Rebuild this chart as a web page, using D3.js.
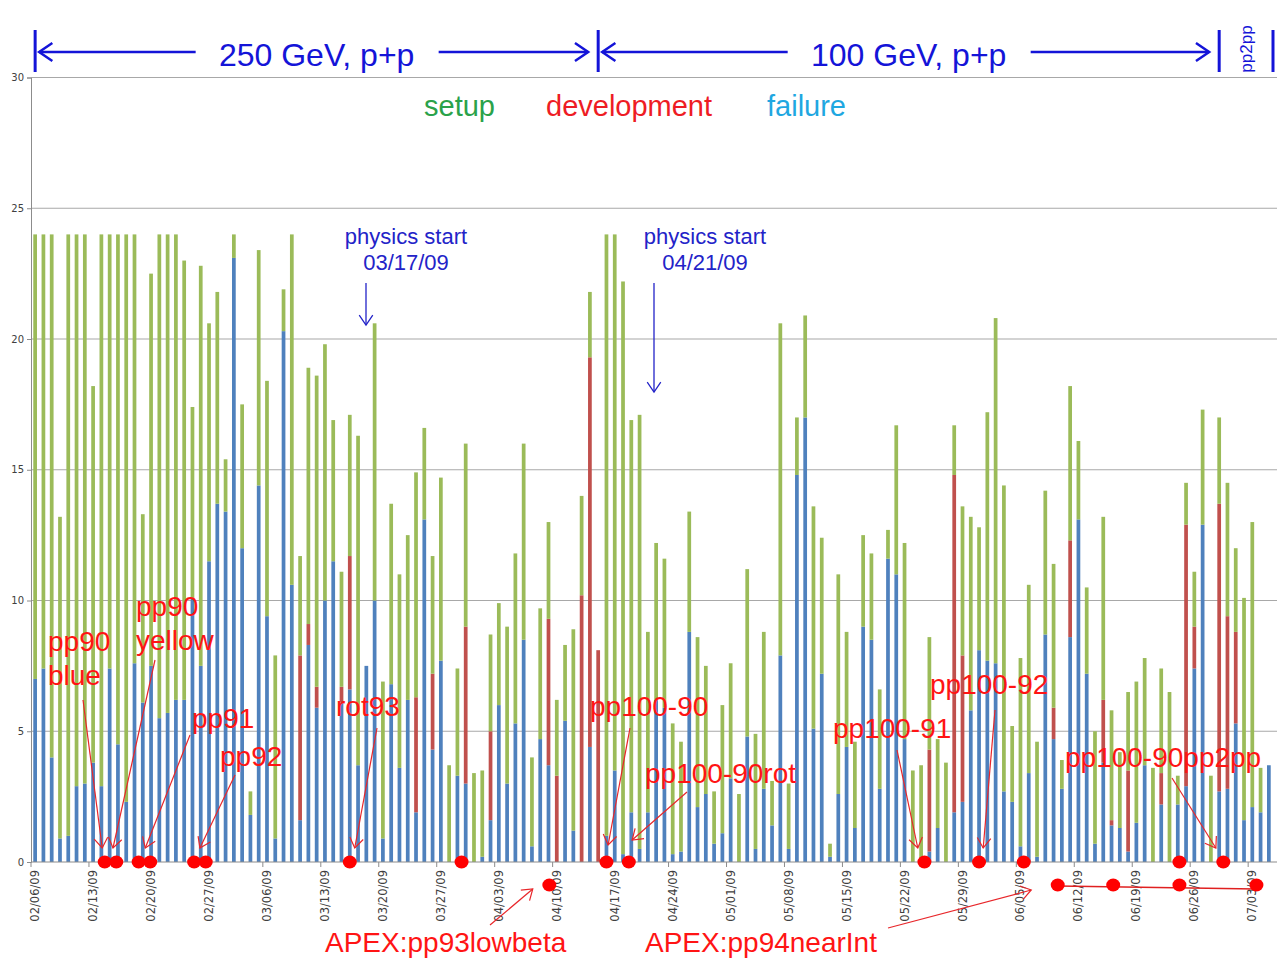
<!DOCTYPE html>
<html>
<head>
<meta charset="utf-8">
<script src="https://cdn.jsdelivr.net/npm/d3@7"></script>
<style>
  body { margin: 0; background: #fff; }
  svg { display: block; }
</style>
</head>
<body>
<script>
// hours per day, Feb 6 .. Jul 5 2009 (one value per day)
var physics = [7.0,7.4,4.0,0.9,1.0,2.9,3.0,3.8,2.9,7.4, 4.5,2.3,7.6,6.1,7.5,5.5,5.7,6.2,6.2,10.1,
  7.5,11.5,13.7,13.4,23.1,12.0,1.8,14.4,9.4,0.9, 20.3,10.6,1.6,8.3,5.9,10.0,11.5,6.1,6.6,3.7,
  7.5,10.0,0.9,6.8,3.6,6.2,1.9,13.1,4.3,7.7, 0,3.3,3.0,0,0.2,1.6,6.0,3.0,5.3,8.5,
  0.6,4.7,3.7,0,5.4,1.2,0,4.4,0,1.0, 3.5,0.3,1.9,0.5,1.9,6.2,5.9,0.3,0.4,8.8,
  2.1,2.6,0.7,1.1,3.2,0,4.8,0.5,2.8,1.4, 7.9,0.5,14.8,17.0,5.1,7.2,0.2,2.6,4.4,1.3,
  9.0,8.5,2.8,11.6,11.0,4.7,0,0,0.4,1.3, 0,1.9,2.3,5.8,8.1,7.7,7.6,2.7,2.3,0.6,
  3.4,0.2,8.7,4.7,2.8,8.6,13.1,7.2,0.7,3.8, 1.4,1.3,0.4,1.5,3.7,0,2.2,0,2.2,2.9,
  7.4,12.9,0,2.7,2.8,5.3,1.6,2.1,1.9,3.7];
var development = [0,0,0,0,0,0,0,0,0,0, 0,0,0,0,0,0,0,0,0,0,
  0,0,0,0,0,0,0,0,0,0, 0,0,6.3,0.8,0.8,0,0,0.6,5.1,0,
  0,0,0,0,0,0,4.4,0,2.9,0, 0,0,6.0,0,0,3.4,0,0,0,0,
  0,0,5.6,3.3,0,0,10.2,14.9,8.1,0, 0,0,0,0,0,0,0,0,0,0,
  0,0,0,0,0,0,0,0,0,0, 0,0,0,0,0,0,0,0,0,0,
  0,0,0,0,0,0,0,0,3.9,0, 0,12.9,5.6,0,0,0,0,0,0,0,
  0,0,0,1.2,0,3.7,0,0,0,2.4, 0.2,0,3.1,0,0,0,1.2,0,0,10.0,
  1.6,0,0,11.0,6.6,3.5,0,0,0,0];
var setup = [17.0,16.6,20.0,12.3,23.0,21.1,21.0,14.4,21.1,16.6, 19.5,21.7,16.4,7.2,15.0,18.5,18.3,17.8,16.8,7.3,
  15.3,9.1,8.1,2.0,0.9,5.5,0.9,9.0,9.0,7.0, 1.6,13.4,3.8,9.8,11.9,9.8,5.4,4.4,5.4,12.6,
  0,10.6,6.0,6.9,7.4,6.3,8.6,3.5,4.5,7.0, 3.7,4.1,7.0,3.4,3.3,3.7,3.9,6.0,6.5,7.5,
  3.4,5.0,3.7,2.9,2.9,7.7,3.8,2.5,0,23.0, 20.5,21.9,15.0,16.6,6.9,6.0,5.7,5.0,4.2,4.6,
  6.5,4.9,2.0,4.9,4.4,2.6,6.4,4.4,6.0,1.7, 12.7,2.5,2.2,3.9,8.5,5.2,0.5,8.4,4.4,3.3,
  3.5,3.3,3.8,1.1,5.7,7.5,3.5,3.7,4.3,3.4, 3.8,1.9,5.7,7.4,4.7,9.5,13.2,11.7,2.9,7.2,
  7.2,4.4,5.5,5.5,1.1,5.9,3.0,3.3,4.3,7.0, 4.2,2.9,3.0,5.4,4.1,3.6,4.0,6.5,1.1,1.6,
  2.1,4.4,3.3,3.3,5.1,3.2,8.5,10.9,1.7,0];

var seriesKeys = ["physics", "development", "setup"];
var seriesColors = ["#4f81bd", "#c0504d", "#9bbb59"];
var yTicks = [0, 5, 10, 15, 20, 25, 30];

// annotation dots (days after 02/06/09)
var dotsOnAxis = [8.4, 9.8, 12.5, 13.9, 19.2, 20.6, 38.0, 51.5, 69.0, 71.7, 107.4, 114.0, 119.4, 138.2, 143.5];
var dotsBelow = [62.1, 123.5, 130.2, 138.2, 147.5];

// run periods: [label, startDay, endDay]
var periods = [["250 GeV, p+p", 0, 68], ["100 GeV, p+p", 68, 143], ["pp2pp", 143, 149.5]];

var legendItems = [["setup", "#2aa24a"], ["development", "#ee1c24"], ["failure", "#1fa7e1"]];

// label lines, text pos, arrow start, arrow tip (day, px)
var notes = [
  [["pp90", "blue"], 48, 651, 83, 700, 8.1, 848],
  [["pp90", "yellow"], 136, 616, 155, 660, 9.4, 848],
  [["pp91"], 192, 728, 190, 735, 13.3, 848],
  [["pp92"], 220, 766, 235, 775, 19.9, 848],
  [["rot93"], 336, 716, 377, 728, 38.6, 848],
  [["pp100-90"], 590, 716, 630, 728, 69.2, 845],
  [["pp100-90rot"], 645, 783, 687, 792, 72.1, 840],
  [["pp100-91"], 833, 738, 897, 750, 106.6, 848],
  [["pp100-92"], 930, 694, 995, 710, 114.5, 848],
  [["pp100-90pp2pp"], 1065, 767, 1172, 778, 142.6, 848],
  [["APEX:pp93lowbeta"], 325, 952, 490, 925, 60.1, 889],
  [["APEX:pp94nearInt"], 645, 952, 888, 928, 120.3, 890]
];

var starts = [[["physics start", "03/17/09"], 406, 366, 283, 325], [["physics start", "04/21/09"], 705, 654, 283, 392]];

var W = 1277, H = 962;
var margin = {left: 31, top: 77.5, bottom: 862};

var dates = d3.timeDay.range(new Date(2009, 1, 6), new Date(2009, 6, 7));
var fmt = d3.timeFormat("%m/%d/%y");

var data = physics.map(function(v, i) {
  return {date: dates[i], physics: v, development: development[i], setup: setup[i]};
});

var x = d3.scaleBand()
  .domain(dates)
  .range([margin.left, margin.left + dates.length * 8.28])
  .paddingInner(0.55)
  .paddingOuter(0.275);

var y = d3.scaleLinear()
  .domain([0, 30])
  .range([margin.bottom, margin.top]);

function xDay(d) { return x(dates[0]) + x.bandwidth() / 2 + d * x.step(); }

var svg = d3.select("body").append("svg")
  .attr("width", W)
  .attr("height", H)
  .style("font-family", "'Liberation Sans', Arial, sans-serif");

svg.append("rect").attr("width", W).attr("height", H).attr("fill", "#fff");

// grid + y axis
svg.append("g").selectAll("line")
  .data(yTicks.filter(function(t) { return t > 0; }))
  .enter().append("line")
  .attr("x1", margin.left).attr("x2", W)
  .attr("y1", function(d) { return y(d); })
  .attr("y2", function(d) { return y(d); })
  .attr("stroke", "#a8a8a8").attr("stroke-width", 1.2);

svg.append("g")
  .attr("transform", "translate(" + margin.left + ",0)")
  .call(d3.axisLeft(y).tickValues(yTicks).tickSize(4).tickFormat(d3.format("d")))
  .call(function(g) {
    g.select(".domain").attr("stroke", "#8c8c8c");
    g.selectAll(".tick line").attr("stroke", "#8c8c8c");
    g.selectAll(".tick text").attr("fill", "#404040").attr("font-size", 10)
      .attr("font-family", "'DejaVu Sans', sans-serif");
  });

// stacked bars
var stack = d3.stack().keys(seriesKeys);
var layers = stack(data);

svg.append("g").selectAll("g")
  .data(layers)
  .enter().append("g")
  .attr("fill", function(d, i) { return seriesColors[i]; })
  .selectAll("rect")
  .data(function(d) { return d; })
  .enter().append("rect")
  .attr("x", function(d) { return x(d.data.date); })
  .attr("width", x.bandwidth())
  .attr("y", function(d) { return y(d[1]); })
  .attr("height", function(d) { return y(d[0]) - y(d[1]); });

// x axis
var weekly = dates.filter(function(d, i) { return i % 7 == 0 && i < data.length; });
var xa = svg.append("g");
xa.append("line")
  .attr("x1", margin.left).attr("x2", W)
  .attr("y1", margin.bottom).attr("y2", margin.bottom)
  .attr("stroke", "#8c8c8c").attr("stroke-width", 1.2);
xa.selectAll(".tk")
  .data(weekly)
  .enter().append("line")
  .attr("x1", function(d) { return x(d) - (x.step() - x.bandwidth()) / 2; })
  .attr("x2", function(d) { return x(d) - (x.step() - x.bandwidth()) / 2; })
  .attr("y1", margin.bottom).attr("y2", margin.bottom + 5)
  .attr("stroke", "#8c8c8c");
xa.selectAll("text")
  .data(weekly)
  .enter().append("text")
  .attr("transform", function(d) { return "translate(" + (x(d) + x.bandwidth() / 2) + "," + (margin.bottom + 8) + ") rotate(-90)"; })
  .attr("text-anchor", "end")
  .attr("dy", "0.35em")
  .attr("font-size", 11.5)
  .attr("font-family", "'DejaVu Sans', sans-serif")
  .attr("fill", "#404040")
  .text(function(d) { return fmt(d); });

// header: run periods
var blue = "#1414d8";
var hdr = svg.append("g").attr("stroke", blue).attr("fill", "none");
function arrow(g, x1, y1, x2, y2, color, w, head) {
  var a = Math.atan2(y2 - y1, x2 - x1);
  g.append("line").attr("x1", x1).attr("y1", y1).attr("x2", x2).attr("y2", y2)
    .attr("stroke", color).attr("stroke-width", w);
  g.append("path")
    .attr("d", "M" + (x2 - head * Math.cos(a - 0.6)) + "," + (y2 - head * Math.sin(a - 0.6)) +
      "L" + x2 + "," + y2 +
      "L" + (x2 - head * Math.cos(a + 0.6)) + "," + (y2 - head * Math.sin(a + 0.6)))
    .attr("stroke", color).attr("stroke-width", w).attr("fill", "none");
}
periods.forEach(function(p, i) {
  var xa0 = xDay(p[1]), xa1 = xDay(p[2]);
  hdr.append("line").attr("x1", xa0).attr("x2", xa0).attr("y1", 30).attr("y2", 72).attr("stroke-width", 3);
  if (i == periods.length - 1) {
    hdr.append("line").attr("x1", xa1).attr("x2", xa1).attr("y1", 30).attr("y2", 72).attr("stroke-width", 3);
    svg.append("text")
      .attr("transform", "translate(" + ((xa0 + xa1) / 2 + 6) + ",49) rotate(-90)")
      .attr("text-anchor", "middle")
      .attr("font-size", 17).attr("fill", blue)
      .text(p[0]);
  } else {
    var mid = (xa0 + xa1) / 2;
    arrow(hdr, mid - 121, 52, xa0 + 4, 52, blue, 2.5, 16);
    arrow(hdr, mid + 122, 52, xa1 - 10, 52, blue, 2.5, 16);
    svg.append("text")
      .attr("x", mid).attr("y", 66)
      .attr("text-anchor", "middle")
      .attr("font-size", 32).attr("fill", blue)
      .text(p[0]);
  }
});

// legend
var legendX = [424, 546, 767];
svg.append("g").selectAll("text")
  .data(legendItems)
  .enter().append("text")
  .attr("x", function(d, i) { return legendX[i]; })
  .attr("y", 116)
  .attr("font-size", 29)
  .attr("fill", function(d) { return d[1]; })
  .text(function(d) { return d[0]; });

// physics start notes
var ps = svg.append("g");
starts.forEach(function(s) {
  s[0].forEach(function(t, j) {
    ps.append("text")
      .attr("x", s[1]).attr("y", 244 + j * 26)
      .attr("text-anchor", "middle")
      .attr("font-size", 22).attr("fill", "#2323c8")
      .text(t);
  });
  arrow(ps, s[2], s[3], s[2], s[4], "#2323c8", 1.3, 12);
});

// red annotations
var red = "#ff1414";
var an = svg.append("g");
notes.forEach(function(n) {
  n[0].forEach(function(t, j) {
    an.append("text")
      .attr("x", n[1]).attr("y", n[2] + j * 34)
      .attr("font-size", 28).attr("fill", red)
      .text(t);
  });
  arrow(an, n[3], n[4], xDay(n[5]), n[6], "#e8262a", 1.2, 12);
});

// dots
var dotsG = svg.append("g").attr("fill", "#ff0000");
dotsG.append("line")
  .attr("x1", xDay(dotsBelow[1])).attr("x2", xDay(dotsBelow[dotsBelow.length - 1]))
  .attr("y1", 886).attr("y2", 889)
  .attr("stroke", "#e02020").attr("stroke-width", 1.5);
dotsG.selectAll(".a")
  .data(dotsOnAxis)
  .enter().append("ellipse")
  .attr("cx", function(d) { return xDay(d); })
  .attr("cy", margin.bottom)
  .attr("rx", 7).attr("ry", 6.5);
dotsG.selectAll(".b")
  .data(dotsBelow)
  .enter().append("ellipse")
  .attr("cx", function(d) { return xDay(d); })
  .attr("cy", 885)
  .attr("rx", 7).attr("ry", 6.5);
</script>
</body>
</html>
